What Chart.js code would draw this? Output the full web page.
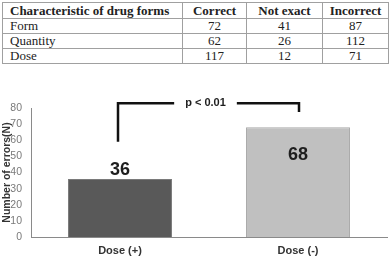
<!DOCTYPE html>
<html>
<head>
<meta charset="utf-8">
<script src="https://cdn.jsdelivr.net/npm/chart.js@4.4.1/dist/chart.umd.min.js"></script>
<style>
  html, body { margin: 0; padding: 0; background: #fff; width: 390px; height: 265px; overflow: hidden; }
  #tbl { position: absolute; left: 2px; top: 2px; border-collapse: collapse; font-family: "Liberation Serif", "Times New Roman", serif; font-size: 13px; color: #222; }
  #tbl td, #tbl th { border: 1px solid #a0a0a0; padding: 0; line-height: 14px; height: 14px; text-align: center; }
  #tbl th { font-weight: bold; height: 15px; }
  #tbl td:first-child, #tbl th:first-child { text-align: left; padding-left: 7px; }
  #wrap { position: absolute; left: 0; top: 68px; width: 390px; height: 197px; }
</style>
</head>
<body>
<table id="tbl">
  <colgroup><col style="width:180px"><col style="width:64px"><col style="width:76px"><col style="width:66px"></colgroup>
  <thead><tr id="thead"></tr></thead>
  <tbody id="tbody"></tbody>
</table>
<div id="wrap"><canvas id="c" width="390" height="197"></canvas></div>
<script>
// ---- table data ----
const tableHeaders = ["Characteristic of drug forms", "Correct", "Not exact", "Incorrect"];
const tableRowLabels = ["Form", "Quantity", "Dose"];
const correctValues = [72, 62, 117];
const notExactValues = [41, 26, 12];
const incorrectValues = [87, 112, 71];

// ---- chart data ----
const categories = ["Dose (+)", "Dose (-)"];
const errorCounts = [36, 68];
const yTicksMin = 0;
const yTicksMax = 80;
const yTicksStep = 10;
const significanceText = "p < 0.01";

// build table
const thead = document.getElementById('thead');
tableHeaders.forEach(h => { const th = document.createElement('th'); th.textContent = h; thead.appendChild(th); });
const tbody = document.getElementById('tbody');
tableRowLabels.forEach((lab, i) => {
  const tr = document.createElement('tr');
  [lab, correctValues[i], notExactValues[i], incorrectValues[i]].forEach(v => {
    const td = document.createElement('td'); td.textContent = v; tr.appendChild(td);
  });
  tbody.appendChild(tr);
});

const FONT = '"Liberation Sans", Arial, sans-serif';

const overlay = {
  id: 'overlay',
  afterDatasetsDraw(chart) {
    const ctx = chart.ctx;
    const meta = chart.getDatasetMeta(0);
    const ys = chart.scales.y, xs = chart.scales.x;
    ctx.save();
    // value labels
    ctx.fillStyle = '#1e1e1e';
    ctx.font = 'bold 18px ' + FONT;
    ctx.textAlign = 'center';
    ctx.textBaseline = 'middle';
    meta.data.forEach((bar, i) => {
      const v = chart.data.datasets[0].data[i];
      const y = i === 0 ? bar.y - 8.5 : bar.y + 27.5;
      ctx.fillText(String(v), bar.x, y);
    });
    // significance bracket
    const x0 = xs.getPixelForValue(0) - 2;
    const x1 = xs.getPixelForValue(1) + 1;
    const yTop = ys.getPixelForValue(83);
    const yL = ys.getPixelForValue(59);
    const yR = ys.getPixelForValue(77.5);
    const xm = (x0 + x1) / 2 - 3;
    ctx.font = 'bold 11px ' + FONT;
    ctx.fillStyle = '#1e1e1e';
    const tw = ctx.measureText(significanceText).width;
    ctx.fillText(significanceText, xm, yTop);
    ctx.strokeStyle = '#111';
    ctx.lineWidth = 2.5;
    ctx.lineCap = 'butt';
    ctx.lineJoin = 'miter';
    ctx.beginPath();
    ctx.moveTo(x0, yL);
    ctx.lineTo(x0, yTop);
    ctx.lineTo(xm - tw / 2 - 11, yTop);
    ctx.moveTo(xm + tw / 2 + 11, yTop);
    ctx.lineTo(x1, yTop);
    ctx.lineTo(x1, yR);
    ctx.stroke();
    ctx.restore();
  }
};

new Chart(document.getElementById('c'), {
  type: 'bar',
  data: {
    labels: categories,
    datasets: [{
      data: errorCounts,
      backgroundColor: ['#595959', '#c0c0c0'],
      borderColor: ['#7a7a7a', '#a9a9a9'],
      borderWidth: 1,
      barPercentage: 0.584,
      categoryPercentage: 1.0
    }]
  },
  options: {
    responsive: false,
    animation: false,
    layout: { padding: { top: 40, right: 3, left: 0, bottom: 0 } },
    plugins: { legend: { display: false }, tooltip: { enabled: false } },
    scales: {
      x: {
        grid: { display: false, drawTicks: false },
        border: { display: true, color: '#8a8a8a', width: 1 },
        ticks: { color: '#333', font: { family: FONT, size: 11, weight: 'bold' }, padding: 7 },
        afterFit(s) { s.height = 28; }
      },
      y: {
        min: yTicksMin, max: yTicksMax,
        grid: { display: false, drawTicks: false },
        border: { display: true, color: '#8a8a8a', width: 1 },
        ticks: { stepSize: yTicksStep, color: '#7a7a7a', font: { family: FONT, size: 10.5 }, padding: 9 },
        title: { display: true, text: 'Number of errors(N)', color: '#333', font: { family: FONT, size: 10.5, weight: 'bold' }, padding: { top: 1, bottom: 0 } },
        afterFit(s) { s.width = 31; }
      }
    }
  },
  plugins: [overlay]
});
</script>
</body>
</html>
